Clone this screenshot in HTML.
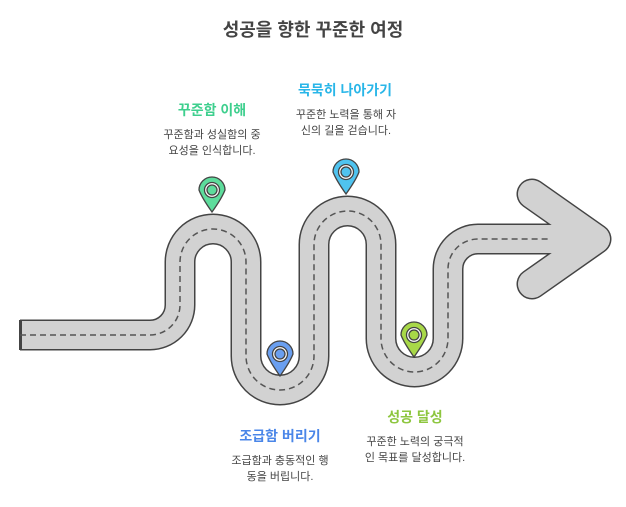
<!DOCTYPE html>
<html><head><meta charset="utf-8"><style>
body{margin:0;width:626px;height:507px;background:#fff;position:relative;font-family:"Liberation Sans","Noto Sans CJK KR",sans-serif;overflow:hidden}
.t{position:absolute;text-align:center;white-space:nowrap}
.h{font-weight:bold;font-size:14px}
.d{font-size:11px;color:#444;line-height:16px}
</style></head><body>
<div class="t" style="left:0;width:626px;top:16px;font-size:18px;font-weight:bold;color:#444">성공을 향한 꾸준한 여정</div>
<div class="t h" style="left:152px;width:120px;top:100px;color:#3ecf8e">꾸준함 이해</div>
<div class="t d" style="left:142px;width:140px;top:127px">꾸준함과 성실함의 중<br>요성을 인식합니다.</div>
<div class="t h" style="left:280px;width:130px;top:80px;color:#29b6e8">묵묵히 나아가기</div>
<div class="t d" style="left:276px;width:140px;top:107px">꾸준한 노력을 통해 자<br>신의 길을 걷습니다.</div>
<div class="t h" style="left:215px;width:130px;top:426px;color:#4a86e8">조급함 버리기</div>
<div class="t d" style="left:210px;width:140px;top:453px">조급함과 충동적인 행<br>동을 버립니다.</div>
<div class="t h" style="left:350px;width:130px;top:407px;color:#8dc63f">성공 달성</div>
<div class="t d" style="left:345px;width:140px;top:434px">꾸준한 노력의 궁극적<br>인 목표를 달성합니다.</div>
<svg width="626" height="507" style="position:absolute;left:0;top:0">
<g fill="none" stroke-linejoin="round">
<path d="M20 335 H150 A30 30 0 0 0 180 305 V262 A33 33 0 0 1 246 262 V356 A34 34 0 0 0 314 356 V244.5 A33.5 33.5 0 0 1 381 244.5 V338.5 A33.5 33.5 0 0 0 448 338.5 V269 A30 30 0 0 1 478 239 H590" stroke="#444" stroke-width="31"/>
<polyline points="532,194 596,239 532,284" stroke="#444" stroke-width="31" stroke-linecap="round"/>
<path d="M20 335 H150 A30 30 0 0 0 180 305 V262 A33 33 0 0 1 246 262 V356 A34 34 0 0 0 314 356 V244.5 A33.5 33.5 0 0 1 381 244.5 V338.5 A33.5 33.5 0 0 0 448 338.5 V269 A30 30 0 0 1 478 239 H590" stroke="#d2d2d2" stroke-width="28"/>
<polyline points="532,194 596,239 532,284" stroke="#d2d2d2" stroke-width="28" stroke-linecap="round"/>
<rect x="19" y="320" width="3" height="30" fill="#444" stroke="none"/>
<path d="M20 335 H150 A30 30 0 0 0 180 305 V262 A33 33 0 0 1 246 262 V356 A34 34 0 0 0 314 356 V244.5 A33.5 33.5 0 0 1 381 244.5 V338.5 A33.5 33.5 0 0 0 448 338.5 V269 A30 30 0 0 1 478 239 H548" stroke="#555" stroke-width="1.5" stroke-dasharray="6 4"/>
</g>
<g stroke="#444" stroke-width="1.3">
<g transform="translate(212,190)"><path d="M-13 0 A13 13 0 1 1 13 0 Q10 8 0 22 Q-10 8 -13 0Z" fill="#5ddc9c"/><circle r="7.5" fill="#fff"/><circle r="5" fill="#5ddc9c"/></g>
<g transform="translate(346,172)"><path d="M-13 0 A13 13 0 1 1 13 0 Q10 8 0 22 Q-10 8 -13 0Z" fill="#4fc3ef"/><circle r="7.5" fill="#fff"/><circle r="5" fill="#4fc3ef"/></g>
<g transform="translate(280,354)"><path d="M-13 0 A13 13 0 1 1 13 0 Q10 8 0 22 Q-10 8 -13 0Z" fill="#6a9ff0"/><circle r="7.5" fill="#fff"/><circle r="5" fill="#6a9ff0"/></g>
<g transform="translate(414,335)"><path d="M-13 0 A13 13 0 1 1 13 0 Q10 8 0 22 Q-10 8 -13 0Z" fill="#a8d848"/><circle r="7.5" fill="#fff"/><circle r="5" fill="#a8d848"/></g>
</g>
</svg>
</body></html>
